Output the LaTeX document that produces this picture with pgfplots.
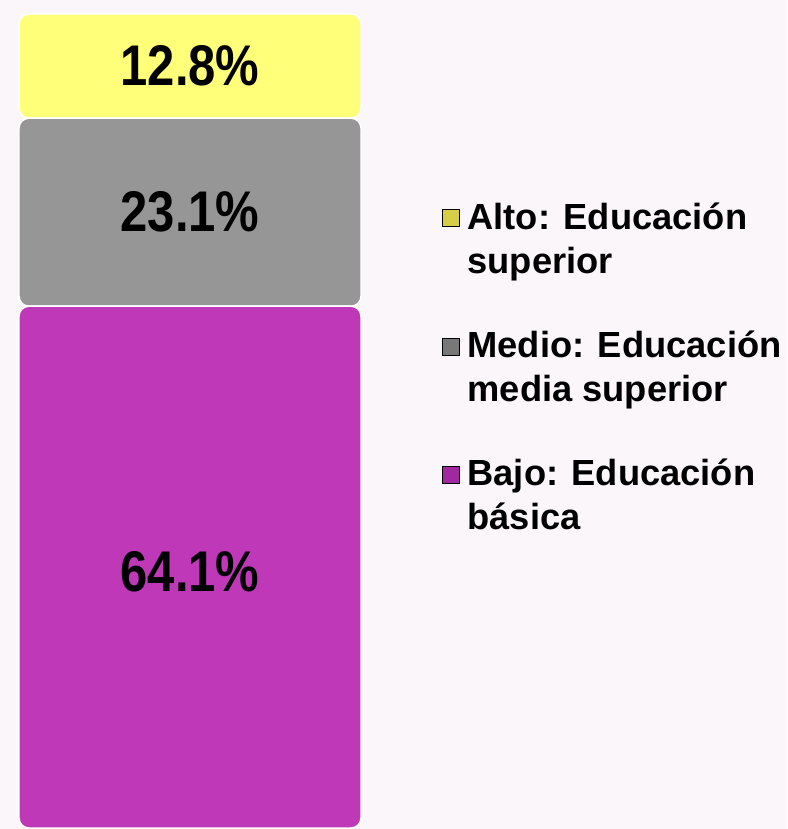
\documentclass[border=0pt]{standalone}
\usepackage{pgfplots}
\pgfplotsset{compat=1.18}
\usepackage{fontspec}
\setmainfont{Liberation Sans}
\definecolor{cy}{RGB}{255,255,122}
\definecolor{cg}{RGB}{150,150,150}
\definecolor{cm}{RGB}{190,56,184}
\definecolor{cyd}{RGB}{214,206,70}
\definecolor{cgd}{RGB}{120,120,120}
\definecolor{cmd}{RGB}{160,40,160}
\definecolor{bg}{RGB}{250,246,249}
\begin{document}
\begin{tikzpicture}
\fill[bg] (0pt,0pt) rectangle (787pt,829pt);
\begin{axis}[
  at={(19pt,1pt)}, anchor=south west,
  scale only axis, width=342pt, height=814pt,
  xmin=-0.5, xmax=0.5, ymin=0, ymax=100,
  hide axis, clip=false,
  ybar stacked, bar width=342pt,
  legend image code/.code={\fill[#1] (0pt,12pt) rectangle (17pt,29pt);},
  legend style={at={(1.228,0.771)}, anchor=north west, draw=none, fill=none,
    font=\bfseries\fontsize{36.3}{44}\selectfont,
    nodes={align=left, inner sep=0pt},
    row sep=56pt,
    /tikz/every odd column/.append style={column sep=8pt}},
  legend cell align=left,
]
\addplot[fill=cm, draw=white, line width=1.5pt, rounded corners=10pt, forget plot] coordinates {(0,64.1)};
\addplot[fill=cg, draw=white, line width=1.5pt, rounded corners=10pt, forget plot] coordinates {(0,23.1)};
\addplot[fill=cy, draw=white, line width=1.5pt, rounded corners=10pt, forget plot] coordinates {(0,12.8)};
\addlegendimage{fill=cyd}
\addlegendentry{Alto: Educación\\superior}
\addlegendimage{fill=cgd}
\addlegendentry{Medio: Educación\\media superior}
\addlegendimage{fill=cmd}
\addlegendentry{Bajo: Educación\\básica}
\coordinate (l1) at (axis cs:0,93.6);
\coordinate (l2) at (axis cs:0,75.65);
\coordinate (l3) at (axis cs:0,31.5);
\end{axis}
\node[font=\bfseries\fontsize{49}{49}\selectfont] at (l1) {\scalebox{1}[1.17]{12.8\%}};
\node[font=\bfseries\fontsize{49}{49}\selectfont] at (l2) {\scalebox{1}[1.17]{23.1\%}};
\node[font=\bfseries\fontsize{49}{49}\selectfont] at (l3) {\scalebox{1}[1.17]{64.1\%}};
\end{tikzpicture}
\end{document}
